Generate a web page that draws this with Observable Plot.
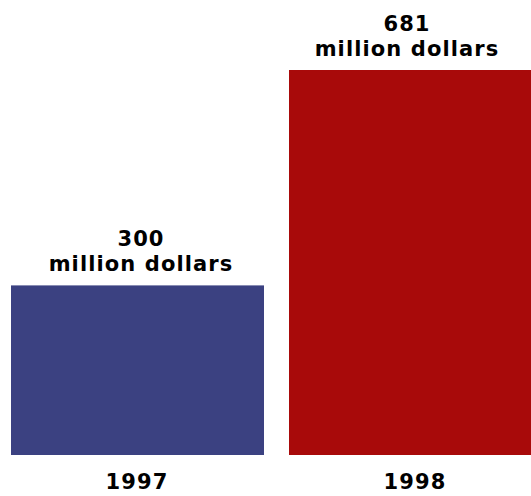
<!DOCTYPE html>
<html>
<head>
<meta charset="utf-8">
<script src="https://cdn.jsdelivr.net/npm/d3@7"></script>
<script src="https://cdn.jsdelivr.net/npm/@observablehq/plot@0.6"></script>
<style>
  html, body { margin: 0; padding: 0; background: #fff; overflow: hidden; }
</style>
</head>
<body>
<div id="chart"></div>
<script>
const years = ["1997", "1998"];
const values = [300, 681];
const labels = ["300\nmillion dollars", "681\nmillion dollars"];
const colors = ["#3b4181", "#a80a0a"];

const data = years.map((year, i) => ({year, value: values[i], label: labels[i]}));

const labelStyle = {
  x: "year", y: "value", text: "label",
  lineAnchor: "bottom", dy: -15, lineHeight: 1.19,
  fontSize: 21, fontWeight: "bold", fill: "#000"
};

const chart = Plot.plot({
  width: 531,
  height: 496,
  marginLeft: 11,
  marginRight: -11,
  marginTop: 70,
  marginBottom: 41,
  style: {fontFamily: "DejaVu Sans", fontWeight: "bold", fontSize: "21px", letterSpacing: "1.1px", overflow: "hidden", background: "#fff"},
  x: {domain: years, paddingInner: 0.09, paddingOuter: 0, label: null},
  y: {domain: [0, 681], axis: null},
  color: {domain: years, range: colors},
  marks: [
    Plot.barY(data, {x: "year", y: "value", fill: "year"}),
    Plot.text(data.filter(d => d.year === years[0]), {...labelStyle, dx: 3}),
    Plot.text(data.filter(d => d.year === years[1]), {...labelStyle, dx: -9}),
    Plot.axisX({tickSize: 0, tickPadding: 19, fontSize: 21, fontWeight: "bold", fill: "#000", label: null, dx: -1})
  ]
});
document.getElementById("chart").appendChild(chart);
</script>
</body>
</html>
